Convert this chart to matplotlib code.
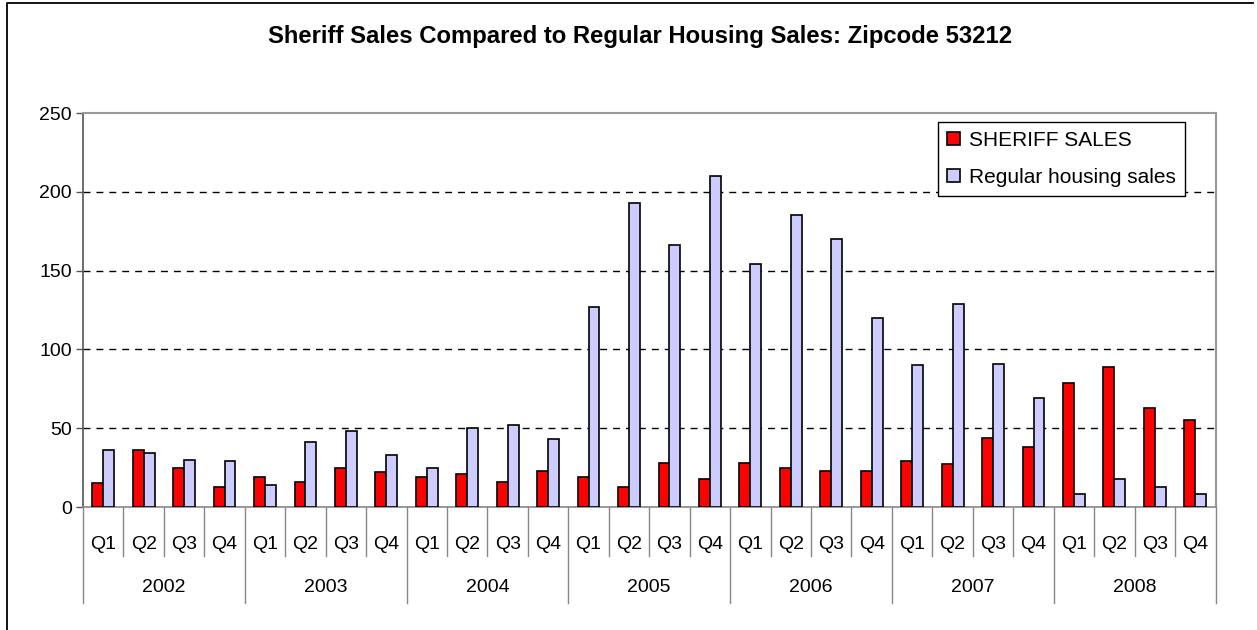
import matplotlib.pyplot as plt
import matplotlib.lines as mlines
import matplotlib.transforms as mtransforms
import numpy as np

plt.rcParams['font.family'] = ['Liberation Sans', 'DejaVu Sans']

years = ['2002', '2003', '2004', '2005', '2006', '2007', '2008']
quarters = ['Q1', 'Q2', 'Q3', 'Q4']

sheriff_sales = [15, 36, 25, 13,
                 19, 16, 25, 22,
                 19, 21, 16, 23,
                 19, 13, 28, 18,
                 28, 25, 23, 23,
                 29, 27, 44, 38,
                 79, 89, 63, 55]
regular_sales = [36, 34, 30, 29,
                 14, 41, 48, 33,
                 25, 50, 52, 43,
                 127, 193, 166, 210,
                 154, 185, 170, 120,
                 90, 129, 91, 69,
                 8, 18, 13, 8]

n = len(sheriff_sales)
x = np.arange(n)
w = 0.27

fig = plt.figure(figsize=(12.57, 6.30), dpi=100)
ax = fig.add_axes([0.066, 0.1952, 0.901, 0.6254])

ax.bar(x - w / 2, sheriff_sales, w, color='#ff0000', edgecolor='black',
       linewidth=1.2, label='SHERIFF SALES', zorder=3)
ax.bar(x + w / 2, regular_sales, w, color='#ccccff', edgecolor='black',
       linewidth=1.2, label='Regular housing sales', zorder=3)

ax.set_xlim(-0.5, n - 0.5)
ax.set_ylim(0, 250)
ax.set_yticks(range(0, 251, 50))
for yv in range(50, 250, 50):
    ax.axhline(yv, color='black', linewidth=1, linestyle=(0, (5, 4.3)), zorder=1)

ax.tick_params(axis='y', labelsize=14, length=5, width=1, color='#555555', pad=3)
ax.set_xticks(x)
ax.set_xticklabels(quarters * len(years), fontsize=14)
ax.tick_params(axis='x', length=0, pad=21)

for side in ['top', 'right']:
    ax.spines[side].set_color('#999999')
    ax.spines[side].set_linewidth(1.5)
ax.spines['left'].set_color('#555555')
ax.spines['left'].set_linewidth(1.2)
ax.spines['bottom'].set_color('#888888')
ax.spines['bottom'].set_linewidth(1.2)

# two level category axis
trans = mtransforms.blended_transform_factory(ax.transData, ax.transAxes)
for i in range(n + 1):
    depth = 0.2438 if i % 4 == 0 else 0.1237
    ax.plot([i - 0.5, i - 0.5], [0, -depth], color='#888888', linewidth=1,
            transform=trans, clip_on=False)
for j, yr in enumerate(years):
    ax.text(j * 4 + 1.5, -0.203, yr, transform=trans, ha='center',
            va='center', fontsize=14)

fig.text(0.509, 1 - 37 / 630, 'Sheriff Sales Compared to Regular Housing Sales: Zipcode 53212',
         ha='center', va='center', fontsize=17.2, fontweight='bold')

leg = ax.legend(loc='upper left', bbox_to_anchor=(937.7 / 1257, 1 - 121.7 / 630),
                bbox_transform=fig.transFigure, borderaxespad=0, fancybox=False,
                framealpha=1, edgecolor='black', fontsize=15, handlelength=0.6,
                handleheight=0.6, handletextpad=0.45, labelspacing=0.85,
                borderpad=0.45)
leg.get_frame().set_linewidth(1)

# outer chart frame (left and top edges)
fig.add_artist(mlines.Line2D([7 / 1257, 7 / 1257, 1253 / 1257], [0, 1 - 3 / 630, 1 - 3 / 630],
                             transform=fig.transFigure, color='black', linewidth=1.3))

fig.savefig('out.png', dpi=100)
